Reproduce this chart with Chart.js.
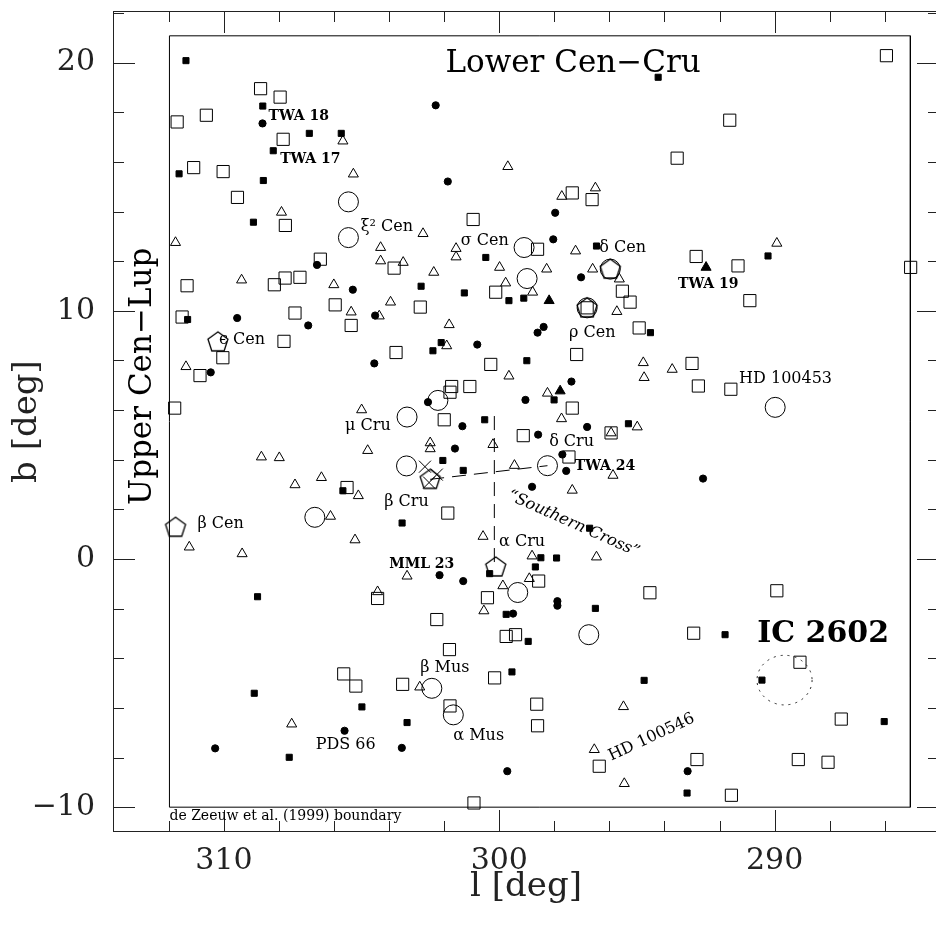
<!DOCTYPE html>
<html>
<head>
<meta charset="utf-8">
<script src="https://cdn.jsdelivr.net/npm/chart.js@4.4.1/dist/chart.umd.min.js"></script>
<style>
html, body { margin: 0; padding: 0; background: #fff; overflow: hidden; }
#wrap { width: 950px; height: 932px; }
</style>
</head>
<body>
<div id="wrap"><canvas id="chart" width="950" height="932"></canvas></div>
<script>
const FONT = "'DejaVu Serif', 'Liberation Serif', serif";

// galactic longitude (l) and latitude (b) of the plotted stars, one pair of arrays per symbol
const openSquareL = [285.94, 308.67, 307.96, 311.70, 310.64, 307.85, 311.10, 310.03, 309.51, 307.77,
  300.95, 291.63, 293.54, 297.35, 296.63, 303.82, 306.50, 298.61, 292.85, 291.33,
  285.06, 311.34, 308.17, 307.78, 307.24, 305.96, 305.38, 302.87, 300.13, 311.52,
  307.42, 307.82, 310.04, 310.87, 311.79, 303.75, 300.31, 301.73, 301.07, 301.79,
  302.00, 295.53, 295.25, 296.81, 294.92, 297.19, 293.00, 292.77, 291.59, 290.90,
  297.35, 295.94, 299.13, 297.47, 305.53, 301.87, 298.57, 300.43, 304.42, 302.27,
  299.75, 299.41, 294.53, 289.92, 292.94, 289.08, 301.81, 305.65, 305.21, 303.51,
  300.17, 301.79, 298.64, 298.61, 296.37, 292.82, 291.57, 287.58, 289.14, 288.06, 300.92];
const openSquareB = [20.28, 18.95, 18.61, 17.61, 17.88, 16.91, 15.77, 15.61, 14.57, 13.44,
  13.68, 17.68, 16.15, 14.75, 14.48, 11.72, 12.08, 12.48, 12.19, 11.81,
  11.75, 11.01, 11.05, 11.32, 11.35, 10.24, 9.41, 10.15, 10.75, 9.75,
  9.91, 8.77, 8.11, 7.39, 6.08, 8.32, 7.84, 6.95, 6.95, 6.72,
  5.61, 10.79, 10.35, 10.12, 9.31, 8.24, 7.88, 6.97, 6.84, 10.41,
  6.08, 5.08, 4.97, 4.11, 2.88, 1.85, -0.89, -1.56, -1.59, -2.44,
  -3.12, -3.05, -1.36, -1.28, -2.99, -4.16, -3.65, -4.63, -5.12, -5.05,
  -4.79, -5.92, -5.85, -6.72, -8.35, -8.08, -9.52, -6.45, -8.08, -8.19, -9.83];

const smallSquareL = [311.38, 294.23, 308.59, 306.90, 305.74, 308.21, 311.63, 308.57, 308.93, 300.49,
  296.47, 290.24, 299.11, 299.65, 302.84, 301.27, 311.32, 294.51, 299.00, 302.11,
  302.41, 298.01, 300.53, 295.31, 302.05, 301.31, 305.68, 303.53, 296.72, 297.92,
  298.49, 298.69, 300.35, 296.51, 298.95, 291.80, 290.46, 294.74, 308.78, 299.54,
  308.90, 304.99, 303.35, 307.63, 293.18, 286.02, 299.75];
const smallSquareB = [20.08, 19.41, 18.25, 17.15, 17.15, 16.45, 15.52, 15.25, 13.57, 12.15,
  12.61, 12.21, 10.51, 10.41, 10.99, 10.72, 9.65, 9.12, 7.99, 8.72,
  8.39, 6.41, 5.61, 5.45, 3.97, 3.57, 2.75, 1.45, 1.24, 0.04,
  0.05, -0.32, -0.59, -1.99, -3.32, -3.05, -4.88, -4.89, -1.52, -4.55,
  -5.41, -5.96, -6.59, -7.99, -9.43, -6.55, -2.23];

const dotL = [308.60, 302.31, 301.87, 306.62, 297.97, 298.04, 297.03, 305.32, 304.51, 309.52,
  306.94, 310.48, 300.80, 304.54, 298.61, 298.39, 297.38, 299.05, 302.59, 301.34,
  301.61, 298.59, 296.81, 297.71, 297.57, 298.81, 292.60, 302.17, 301.31, 297.89,
  297.89, 299.50, 305.62, 310.32, 303.54, 299.71, 293.16];
const dotB = [17.55, 18.28, 15.21, 11.85, 13.95, 12.88, 11.35, 10.85, 9.81, 9.71,
  9.41, 7.52, 8.64, 7.88, 9.12, 9.35, 7.15, 6.41, 6.32, 5.35,
  4.45, 5.01, 5.32, 4.21, 3.55, 2.91, 3.24, -0.65, -0.89, -1.70,
  -1.88, -2.20, -6.92, -7.63, -7.61, -8.55, -8.55];

const filledTriangleL = [292.49, 298.19, 297.79];
const filledTriangleB = [11.75, 10.41, 6.77];

const triangleL = [305.68, 305.30, 299.69, 307.91, 311.76, 304.31, 302.77, 301.57, 301.57, 304.31,
  303.49, 302.38, 299.99, 297.73, 296.51, 297.23, 289.92, 296.61, 298.28, 295.64,
  298.79, 295.73, 294.77, 294.74, 293.72, 298.25, 299.65, 297.74, 295.94, 294.99,
  295.87, 297.35, 296.47, 298.81, 298.91, 295.49, 296.55, 295.46, 309.36, 306.01,
  299.77, 305.38, 304.36, 303.95, 301.82, 301.91, 311.38, 305.00, 300.23, 304.78,
  308.64, 307.99, 299.45, 307.42, 306.46, 305.12, 306.13, 311.26, 309.34, 305.24,
  300.59, 303.35, 304.42, 299.87, 300.56, 302.89, 307.54, 302.51, 302.51];
const triangleB = [16.84, 15.51, 15.81, 13.97, 12.75, 12.55, 13.11, 12.51, 12.17, 12.01,
  11.95, 11.55, 11.75, 14.61, 14.95, 12.41, 12.72, 11.68, 11.68, 11.28,
  10.75, 9.97, 7.91, 7.31, 7.64, 6.68, 7.37, 5.65, 5.08, 5.32,
  3.37, 2.77, 0.08, 0.12, -0.79, -5.95, -7.68, -9.05, 11.24, 11.05,
  11.12, 9.95, 9.79, 10.35, 9.44, 8.59, 7.75, 6.01, 4.61, 4.37,
  4.11, 4.08, 3.77, 2.99, 3.28, 2.55, 1.72, 0.48, 0.21, 0.77,
  0.91, -0.69, -1.32, -1.08, -2.09, -5.16, -6.65, 4.68, 4.44];

// bright stars: large open circles and pentagons
const brightL = [305.48, 305.48, 299.10, 298.99, 295.97, 296.81, 302.23, 303.35, 303.37, 298.25,
  306.70, 299.33, 296.75, 302.45, 301.67, 289.98];
const brightB = [14.39, 12.95, 12.55, 11.30, 11.68, 10.12, 6.39, 5.72, 3.75, 3.76,
  1.68, -1.35, -3.05, -5.21, -6.28, 6.11];
const pentagonL = [310.22, 311.76, 302.51, 300.13, 295.97, 296.81];
const pentagonB = [8.75, 1.28, 3.21, -0.32, 11.68, 10.12];
const crossL = [302.70, 302.27, 302.55];
const crossB = [3.72, 3.40, 3.08];

// Southern Cross stick figure and the de Zeeuw et al. boundary
const crossVertL = [300.18, 300.18];
const crossVertB = [5.76, -0.30];
const crossHorL = [302.51, 298.25];
const crossHorB = [3.21, 3.76];
const boundaryL = [311.98, 311.98, 285.07, 285.07, 311.98];
const boundaryB = [-10.0, 21.08, 21.08, -10.0, -10.0];

// IC 2602 outline
const icCenterL = 289.64;
const icCenterB = -4.88;
const icRadiusDeg = 1.0;

const xMajorTicks = [310, 300, 290];
const xMinorTicks = [312, 308, 306, 304, 302, 298, 296, 294, 292, 288, 286];
const yMajorTicks = [-10, 0, 10, 20];
const yMinorTicks = [-8, -6, -4, -2, 2, 4, 6, 8, 12, 14, 16, 18, 22];

const annotations = [
  { text: 'Lower Cen\u2212Cru', l: 297.32, b: 19.96, size: 31, align: 'center' },
  { text: 'Upper Cen\u2212Lup', l: 312.95, b: 7.36, size: 31, align: 'center', rot: -90 },
  { text: 'IC 2602', l: 288.24, b: -3.04, size: 30, weight: 'bold', align: 'center' },
  { text: 'TWA 18', l: 308.38, b: 17.85, size: 14, weight: 'bold' },
  { text: 'TWA 17', l: 307.96, b: 16.10, size: 14, weight: 'bold' },
  { text: 'TWA 19', l: 293.51, b: 11.05, size: 14, weight: 'bold' },
  { text: 'TWA 24', l: 297.26, b: 3.73, size: 14, weight: 'bold' },
  { text: 'MML 23', l: 304.00, b: -0.22, size: 14, weight: 'bold' },
  { text: '\u03BE\u00B2 Cen', l: 305.03, b: 13.40, size: 16 },
  { text: '\u03C3 Cen', l: 301.40, b: 12.80, size: 16 },
  { text: '\u03B4 Cen', l: 296.37, b: 12.52, size: 16 },
  { text: '\u03C1 Cen', l: 297.47, b: 9.12, size: 16 },
  { text: '\u03F5 Cen', l: 310.18, b: 8.81, size: 16 },
  { text: 'HD 100453', l: 291.29, b: 7.24, size: 16 },
  { text: '\u03BC Cru', l: 305.60, b: 5.38, size: 16 },
  { text: '\u03B4 Cru', l: 298.19, b: 4.72, size: 16 },
  { text: '\u03B2 Cru', l: 304.18, b: 2.32, size: 16 },
  { text: '\u03B2 Cen', l: 310.96, b: 1.40, size: 16 },
  { text: '\u03B1 Cru', l: 300.01, b: 0.68, size: 16 },
  { text: '\u03B2 Mus', l: 302.87, b: -4.40, size: 16 },
  { text: '\u03B1 Mus', l: 301.67, b: -7.12, size: 16 },
  { text: 'PDS 66', l: 306.67, b: -7.48, size: 16 },
  { text: 'HD 100546', l: 294.47, b: -7.19, size: 16, align: 'center', rot: -25 },
  { text: '\u201CSouthern Cross\u201D', l: 297.30, b: 1.41, size: 16, style: 'italic', align: 'center', rot: 24 },
  { text: 'de Zeeuw et al. (1999) boundary', l: 311.98, b: -10.36, size: 14 },
];

// pentagon symbol for the brightest stars
const pentagon = document.createElement('canvas');
pentagon.width = 26;
pentagon.height = 26;
(function () {
  const c = pentagon.getContext('2d');
  c.strokeStyle = '#000';
  c.lineWidth = 1.3;
  c.beginPath();
  for (let k = 0; k < 5; k++) {
    const a = -Math.PI / 2 + k * 2 * Math.PI / 5;
    const px = 13 + 10.5 * Math.cos(a), py = 13.5 + 10.5 * Math.sin(a);
    if (k === 0) c.moveTo(px, py); else c.lineTo(px, py);
  }
  c.closePath();
  c.stroke();
})();

const pts = (ls, bs) => ls.map((l, i) => ({ x: l, y: bs[i] }));

function marker(label, ls, bs, style, radius, filled) {
  return {
    label,
    data: pts(ls, bs),
    showLine: false,
    pointStyle: style,
    pointRadius: radius,
    pointBorderWidth: 1,
    pointBorderColor: '#000',
    pointBackgroundColor: filled ? '#000' : 'rgba(0,0,0,0)',
  };
}

function line(label, ls, bs, dash) {
  return {
    label,
    data: pts(ls, bs),
    showLine: true,
    borderColor: '#000',
    borderWidth: 1,
    borderDash: dash,
    pointRadius: 0,
    fill: false,
  };
}

const framePlugin = {
  id: 'frame',
  afterDatasetsDraw(chart) {
    const { ctx, chartArea: a, scales: { x, y } } = chart;
    ctx.save();
    ctx.strokeStyle = '#222';
    ctx.lineWidth = 1;
    ctx.strokeRect(a.left + 0.5, a.top + 0.5, a.right - a.left - 1, a.bottom - a.top - 1);
    const xt = (vals, len) => vals.forEach(v => {
      const px = Math.round(x.getPixelForValue(v)) + 0.5;
      ctx.beginPath();
      ctx.moveTo(px, a.bottom); ctx.lineTo(px, a.bottom - len);
      ctx.moveTo(px, a.top); ctx.lineTo(px, a.top + len);
      ctx.stroke();
    });
    const yt = (vals, len) => vals.forEach(v => {
      const py = Math.round(y.getPixelForValue(v)) + 0.5;
      ctx.beginPath();
      ctx.moveTo(a.left, py); ctx.lineTo(a.left + len, py);
      ctx.moveTo(a.right, py); ctx.lineTo(a.right - len, py);
      ctx.stroke();
    });
    xt(xMajorTicks, 22); xt(xMinorTicks, 11);
    yt(yMajorTicks, 22); yt(yMinorTicks, 11);

    // IC 2602 dotted outline
    const cx = x.getPixelForValue(icCenterL), cy = y.getPixelForValue(icCenterB);
    const rx = Math.abs(x.getPixelForValue(icCenterL + icRadiusDeg) - cx);
    const ry = Math.abs(y.getPixelForValue(icCenterB + icRadiusDeg) - cy);
    ctx.setLineDash([2, 5]);
    ctx.beginPath();
    ctx.ellipse(cx, cy, rx, ry, 0, 0, 2 * Math.PI);
    ctx.stroke();
    ctx.restore();
  }
};

const labelPlugin = {
  id: 'labels',
  afterDatasetsDraw(chart) {
    const { ctx, scales: { x, y } } = chart;
    ctx.save();
    ctx.fillStyle = '#000';
    ctx.textBaseline = 'middle';
    annotations.forEach(t => {
      ctx.save();
      ctx.translate(x.getPixelForValue(t.l), y.getPixelForValue(t.b));
      if (t.rot) ctx.rotate(t.rot * Math.PI / 180);
      ctx.font = `${t.style || 'normal'} ${t.weight || 'normal'} ${t.size}px ${FONT}`;
      ctx.textAlign = t.align || 'left';
      ctx.fillText(t.text, 0, 0);
      ctx.restore();
    });
    ctx.restore();
  }
};

new Chart(document.getElementById('chart'), {
  type: 'scatter',
  data: {
    datasets: [
      marker('pentagons', pentagonL, pentagonB, pentagon, 10, false),
      marker('bright', brightL, brightB, 'circle', 10, false),
      marker('crosses', crossL, crossB, 'crossRot', 8.5, false),
      marker('small squares', smallSquareL, smallSquareB, 'rect', 4.3, true),
      marker('dots', dotL, dotB, 'circle', 3.6, true),
      marker('filled triangles', filledTriangleL, filledTriangleB, 'triangle', 5.8, true),
      marker('triangles', triangleL, triangleB, 'triangle', 5.8, false),
      marker('open squares', openSquareL, openSquareB, 'rect', 8.6, false),
      line('cross vertical', crossVertL, crossVertB, [14, 8]),
      line('cross horizontal', crossHorL, crossHorB, [14, 8]),
      line('boundary', boundaryL, boundaryB, []),
    ],
  },
  options: {
    responsive: false,
    animation: false,
    devicePixelRatio: 1,
    layout: { padding: { top: 5, right: 3, left: 0, bottom: 0 } },
    plugins: { legend: { display: false }, tooltip: { enabled: false } },
    scales: {
      x: {
        type: 'linear',
        min: 284.03,
        max: 314.03,
        reverse: true,
        afterFit: (s) => { s.height = 100; s.paddingLeft = 0; s.paddingRight = 0; },
        afterBuildTicks: (s) => { s.ticks = xMajorTicks.map(v => ({ value: v })); },
        grid: { display: false, drawTicks: false },
        border: { display: false },
        ticks: {
          padding: 11, color: '#222', maxRotation: 0, autoSkip: false,
          font: { family: FONT, size: 30 },
          callback: (v) => String(v),
        },
        title: {
          display: true, text: 'l [deg]', color: '#222',
          font: { family: FONT, size: 34 }, padding: { top: 0, bottom: 24 },
        },
      },
      y: {
        type: 'linear',
        min: -11.0,
        max: 22.08,
        afterFit: (s) => { s.width = 113; s.paddingTop = 0; s.paddingBottom = 0; },
        afterBuildTicks: (s) => { s.ticks = yMajorTicks.map(v => ({ value: v })); },
        grid: { display: false, drawTicks: false },
        border: { display: false },
        ticks: {
          padding: 18, color: '#222', autoSkip: false,
          font: { family: FONT, size: 30 },
          callback: (v) => (v < 0 ? '\u2212' + (-v) : String(v)),
        },
        title: {
          display: true, text: 'b [deg]', color: '#222',
          font: { family: FONT, size: 34 }, padding: { top: 7, bottom: 0 },
        },
      },
    },
  },
  plugins: [framePlugin, labelPlugin],
});
</script>
</body>
</html>
